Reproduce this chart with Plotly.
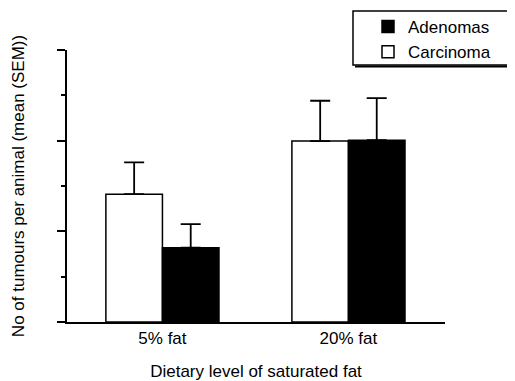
import plotly.graph_objects as go

categories = ["5% fat", "20% fat"]
carcinoma_mean = [2.82, 3.99]
carcinoma_sem = [0.70, 0.89]
adenomas_mean = [1.64, 4.01]
adenomas_sem = [0.52, 0.93]

FONT = "Liberation Sans, Arial, Helvetica, sans-serif"
OFF = 8  # page body margin
W, H = 515 - OFF, 381 - OFF
ML, MR, MT, MB = 67 - OFF, 70, 50 - OFF, 59
PW, PH = W - ML - MR, H - MT - MB


def px_x(x):
    # window pixel -> paper fraction
    return (x - OFF - ML) / PW


def px_y(y):
    return (H - MB - (y - OFF)) / PH


fig = go.Figure()
fig.add_trace(go.Bar(
    name="Carcinoma", x=categories, y=carcinoma_mean,
    marker=dict(color="white", line=dict(color="black", width=1.5)),
    error_y=dict(type="data", array=carcinoma_sem, arrayminus=[0, 0], symmetric=False,
                 color="black", thickness=1.8, width=10),
    legendgroup="c", legendrank=2,
))
fig.add_trace(go.Bar(
    name="Adenomas", x=categories, y=adenomas_mean,
    marker=dict(color="black", line=dict(color="black", width=1.5)),
    error_y=dict(type="data", array=adenomas_sem, arrayminus=[0, 0], symmetric=False,
                 color="black", thickness=1.8, width=10),
    legendgroup="a", legendrank=1,
))

# legend frame with a shadow edge
fig.add_shape(type="rect", xref="paper", yref="paper",
              x0=px_x(353), x1=px_x(513), y0=px_y(65), y1=px_y(11),
              line=dict(color="black", width=1.5), fillcolor="white", layer="below")
fig.add_shape(type="line", xref="paper", yref="paper",
              x0=px_x(355), x1=px_x(514), y0=px_y(66.5), y1=px_y(66.5),
              line=dict(color="black", width=2))

fig.update_layout(
    width=W, height=H,
    margin=dict(l=ML, r=MR, t=MT, b=MB, pad=0, autoexpand=False),
    paper_bgcolor="white", plot_bgcolor="white",
    font=dict(family=FONT, size=17, color="black"),
    barmode="group", bargap=0.392, bargroupgap=0,
    showlegend=True,
    legend=dict(x=px_x(368), y=px_y(9), xanchor="left", yanchor="top",
                traceorder="grouped", tracegroupgap=0,
                bgcolor="rgba(0,0,0,0)", borderwidth=0,
                font=dict(family=FONT, size=17, color="black")),
    xaxis=dict(range=[-0.513, 1.519], showline=True, linecolor="black", linewidth=1.8,
               ticks="", showgrid=False, zeroline=False,
               tickfont=dict(size=17),
               title=dict(text="Dietary level of saturated fat", font=dict(size=17), standoff=19)),
    yaxis=dict(range=[0, 6], showline=True, linecolor="black", linewidth=1.8,
               tickvals=[0, 2, 4, 6], ticks="outside", ticklen=8, tickwidth=1.5, tickcolor="black",
               showticklabels=False, showgrid=False, zeroline=False,
               minor=dict(dtick=1, ticks="outside", ticklen=4, tickwidth=1.5, tickcolor="black", showgrid=False),
               title=dict(text="No of tumours per animal (mean (SEM))", font=dict(size=17), standoff=28)),
)

fig.write_html("out.html")
